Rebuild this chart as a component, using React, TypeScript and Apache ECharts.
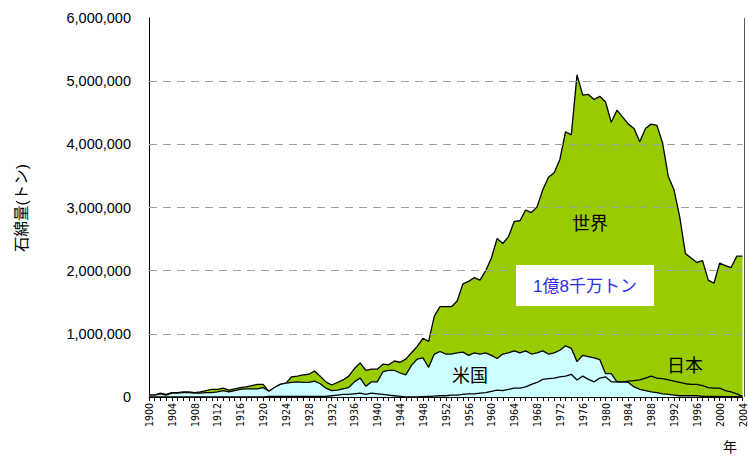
import React, { useEffect, useRef } from "react";
import * as echarts from "echarts";

const years: string[] = [];
for (let y = 1900; y <= 2004; y++) years.push(String(y));

// values in million tonnes
const worldM = [
  0.03, 0.03, 0.06, 0.04, 0.07, 0.07, 0.08, 0.08, 0.07, 0.08,
  0.1, 0.12, 0.12, 0.14, 0.11, 0.13, 0.15, 0.16, 0.18, 0.2,
  0.2, 0.09, 0.15, 0.2, 0.22, 0.32, 0.33, 0.35, 0.36, 0.41,
  0.33, 0.24, 0.19, 0.23, 0.27, 0.33, 0.45, 0.54, 0.42, 0.44,
  0.44, 0.52, 0.51, 0.57, 0.55, 0.6, 0.7, 0.8, 0.93, 0.88,
  1.28, 1.43, 1.43, 1.43, 1.52, 1.79, 1.83, 1.89, 1.85, 2.0,
  2.2, 2.51, 2.43, 2.54, 2.78, 2.79, 2.96, 2.92, 3.01, 3.28,
  3.48, 3.55, 3.76, 4.2, 4.15, 5.1, 4.78, 4.79, 4.71, 4.76,
  4.67, 4.35, 4.54, 4.43, 4.32, 4.25, 4.04, 4.25, 4.32, 4.3,
  4.02, 3.49, 3.28, 2.85, 2.27, 2.2, 2.13, 2.16, 1.85, 1.8,
  2.12, 2.08, 2.05, 2.23, 2.23,
];

const usaM = [
  0.03, 0.03, 0.05, 0.03, 0.06, 0.06, 0.07, 0.07, 0.06, 0.06,
  0.07, 0.07, 0.08, 0.1, 0.08, 0.1, 0.12, 0.13, 0.13, 0.13,
  0.15, 0.09, 0.15, 0.2, 0.22, 0.23, 0.24, 0.23, 0.23, 0.25,
  0.21, 0.14, 0.1, 0.11, 0.13, 0.15, 0.24, 0.3, 0.17, 0.24,
  0.24, 0.4, 0.42, 0.42, 0.38, 0.35, 0.5, 0.6, 0.62, 0.47,
  0.68, 0.72, 0.68, 0.68, 0.7, 0.71, 0.66, 0.7, 0.68, 0.7,
  0.66, 0.61, 0.68, 0.7, 0.73, 0.7, 0.73, 0.68, 0.7, 0.73,
  0.68, 0.7, 0.74, 0.81, 0.77, 0.56, 0.66, 0.64, 0.62, 0.59,
  0.37, 0.37, 0.24, 0.24, 0.23, 0.16, 0.12, 0.1, 0.08, 0.07,
  0.05, 0.04, 0.03, 0.02, 0.02, 0.02, 0.02, 0.01, 0.01, 0.01,
  0.01, 0.005, 0.005, 0.005, 0.002,
];

const japanM = [
  0, 0, 0, 0, 0, 0, 0, 0, 0, 0,
  0, 0, 0, 0, 0, 0, 0, 0, 0, 0,
  0, 0.01, 0.01, 0.01, 0.01, 0.01, 0.01, 0.01, 0.01, 0.01,
  0.01, 0.01, 0.02, 0.03, 0.04, 0.04, 0.05, 0.06, 0.04, 0.06,
  0.05, 0.04, 0.03, 0.02, 0.01, 0, 0, 0, 0.005, 0.01,
  0.015, 0.02, 0.02, 0.03, 0.03, 0.04, 0.05, 0.05, 0.06, 0.07,
  0.09, 0.11, 0.1, 0.12, 0.14, 0.14, 0.16, 0.2, 0.23, 0.28,
  0.29, 0.3, 0.32, 0.33, 0.36, 0.27, 0.33, 0.28, 0.24, 0.3,
  0.32, 0.24, 0.24, 0.24, 0.25, 0.26, 0.27, 0.3, 0.33, 0.3,
  0.29, 0.27, 0.25, 0.23, 0.21, 0.2, 0.2, 0.18, 0.15, 0.14,
  0.14, 0.1, 0.08, 0.05, 0.01,
];

const gridValues = [1000000, 2000000, 3000000, 4000000, 5000000];

const toTonnes = (a: number[]) => a.map((v) => Math.round(v * 1000000));

const FONT = "'Liberation Sans', Arial, 'Noto Sans CJK JP', sans-serif";
const NARROW = "'Liberation Sans Narrow', 'Arial Narrow', 'DejaVu Sans Condensed', 'Liberation Sans', sans-serif";

export default function App() {
  const ref = useRef<HTMLDivElement>(null);
  useEffect(() => {
    document.body.style.margin = "0";
    if (!ref.current) return;
    const chart = echarts.init(ref.current, undefined, { renderer: "svg" });
    chart.setOption({
      animation: false,
      backgroundColor: "#ffffff",
      textStyle: { fontFamily: FONT },
      grid: { left: 149, right: 4, top: 18, bottom: 60, containLabel: false },
      xAxis: {
        type: "category",
        data: years,
        boundaryGap: false,
        axisLine: { lineStyle: { color: "#000", width: 1 } },
        axisTick: { show: true, interval: 0, length: 4, lineStyle: { color: "#000" } },
        axisLabel: {
          interval: 3,
          rotate: 90,
          fontSize: 10.5,
          color: "#000",
          margin: 6,
          fontFamily: NARROW,
        },
        splitLine: { show: false },
      },
      yAxis: {
        type: "value",
        min: 0,
        max: 6000000,
        interval: 1000000,
        axisLine: { show: true, lineStyle: { color: "#000", width: 1 } },
        axisTick: { show: false },
        axisLabel: {
          fontSize: 14.5,
          color: "#000",
          margin: 18,
          fontFamily: FONT,
          formatter: (v: number) => v.toLocaleString("en-US"),
        },
        splitLine: { show: false },
      },
      series: [
        {
          type: "line",
          name: "grid",
          data: [],
          z: 1,
          silent: true,
          markLine: {
            silent: true,
            symbol: ["none", "none"],
            label: { show: false },
            lineStyle: { color: "#a0a0a0", type: [8, 6], width: 1 },
            data: gridValues.map((v) => ({ yAxis: v })),
          },
        },
        {
          type: "line",
          name: "世界",
          data: toTonnes(worldM),
          z: 2,
          symbol: "none",
          lineStyle: { color: "#000", width: 1.3 },
          areaStyle: { color: "#99cc00", opacity: 1 },
        },
        {
          type: "line",
          name: "米国",
          data: toTonnes(usaM),
          z: 3,
          symbol: "none",
          lineStyle: { color: "#000", width: 1.3 },
          areaStyle: { color: "#ccffff", opacity: 1 },
        },
        {
          type: "line",
          name: "日本",
          data: toTonnes(japanM),
          z: 4,
          symbol: "none",
          lineStyle: { color: "#000", width: 1.3 },
        },
      ],
      graphic: [
        {
          type: "line",
          shape: { x1: 744.5, y1: 18, x2: 744.5, y2: 397 },
          style: { stroke: "#555", lineWidth: 1 },
          z: 5,
        },
        {
          type: "text",
          x: 21,
          y: 208,
          rotation: Math.PI / 2,
          style: {
            text: "石綿量(トン)",
            fontSize: 15.5,
            fontFamily: FONT,
            fill: "#000",
            align: "center",
            verticalAlign: "middle",
          },
        },
        {
          type: "text",
          x: 730,
          y: 447,
          style: {
            text: "年",
            fontSize: 14,
            fontFamily: FONT,
            fill: "#000",
            align: "center",
            verticalAlign: "middle",
          },
        },
        {
          type: "text",
          x: 590,
          y: 224,
          z: 10,
          style: {
            text: "世界",
            fontSize: 18,
            fontFamily: FONT,
            fill: "#000",
            align: "center",
            verticalAlign: "middle",
          },
        },
        {
          type: "text",
          x: 470,
          y: 376,
          z: 10,
          style: {
            text: "米国",
            fontSize: 18,
            fontFamily: FONT,
            fill: "#000",
            align: "center",
            verticalAlign: "middle",
          },
        },
        {
          type: "text",
          x: 685,
          y: 366,
          z: 10,
          style: {
            text: "日本",
            fontSize: 18,
            fontFamily: FONT,
            fill: "#000",
            align: "center",
            verticalAlign: "middle",
          },
        },
        {
          type: "rect",
          z: 10,
          shape: { x: 516, y: 265, width: 138, height: 41 },
          style: { fill: "#ffffff" },
        },
        {
          type: "text",
          x: 585,
          y: 286,
          z: 11,
          style: {
            text: "1億8千万トン",
            fontSize: 17,
            fontFamily: FONT,
            fill: "#2b2bf0",
            align: "center",
            verticalAlign: "middle",
          },
        },
      ],
    });
    return () => chart.dispose();
  }, []);
  return <div ref={ref} style={{ width: 748, height: 457 }} />;
}
